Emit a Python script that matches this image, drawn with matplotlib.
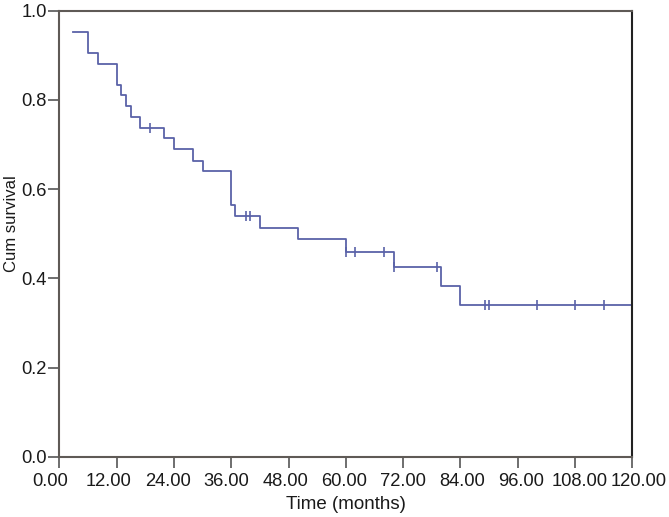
import numpy as np
import matplotlib
matplotlib.use("Agg")
import matplotlib.pyplot as plt
import matplotlib.transforms as mtransforms

plt.rcParams['font.family'] = ['Liberation Sans', 'DejaVu Sans']

# Kaplan-Meier step data (time in months, survival after that time)
event_times = [2.9, 6.0, 8.0, 12.0, 12.9, 14.0, 15.0, 17.0, 22.0, 24.0, 28.0,
               30.0, 36.0, 36.9, 42.0, 50.0, 60.0, 70.0, 80.0, 84.0]
survival = [0.952, 0.905, 0.881, 0.833, 0.810, 0.786, 0.762, 0.738, 0.714,
            0.689, 0.664, 0.640, 0.565, 0.540, 0.513, 0.487, 0.458, 0.425,
            0.382, 0.340]
end_time = 120.0
censor_times = [19.0, 39.0, 39.9, 60.0, 61.9, 67.9, 70.0, 79.0, 89.1, 90.0,
                100.0, 108.0, 114.0]

xticks = [0, 12, 24, 36, 48, 60, 72, 84, 96, 108, 120]
yticks = [0.0, 0.2, 0.4, 0.6, 0.8, 1.0]

color = '#5a62a8'

fig = plt.figure(figsize=(6.69, 5.17), dpi=100)
ax = fig.add_axes([59.3/669, 1-456.7/517, (632.3-59.3)/669, (456.7-10.7)/517])

t = event_times + [end_time]
s = survival + [survival[-1]]
ax.step(t, s, where='post', color=color, lw=1.3)

et = np.array(event_times)
sv = np.array(survival)
cs = [sv[np.searchsorted(et, c, side='right') - 1] for c in censor_times]
ax.plot(censor_times, cs, linestyle='none', marker='|', markersize=7,
        markeredgewidth=1.2, color=color)

ax.set_xlim(0, 120)
ax.set_ylim(0, 1.0)
ax.set_xticks(xticks)
ax.set_xticklabels([f"{v:.2f}" for v in xticks])
ax.set_yticks(yticks)
ax.set_yticklabels([f"{v:.1f}" for v in yticks])
ax.tick_params(axis='both', direction='out', length=8, width=1.2,
               color='#555555', labelsize=13.2, labelcolor='#1a1a1a')
ax.tick_params(axis='y', pad=1)
ax.tick_params(axis='x', pad=4)

# slight spreading of the x tick labels, as in the reference rendering
for i, lab in enumerate(ax.get_xticklabels()):
    dx = (-9.3 + 0.0267 * i * 57.3) / 100.0
    lab.set_transform(lab.get_transform() +
                      mtransforms.ScaledTranslation(dx, 0, fig.dpi_scale_trans))

for side in ['left', 'bottom', 'top']:
    ax.spines[side].set_color('#5f5a56')
    ax.spines[side].set_linewidth(1.5)
ax.spines['right'].set_color('#222222')
ax.spines['right'].set_linewidth(1.5)

ax.set_xlabel('Time (months)', fontsize=13.5, color='#1a1a1a', labelpad=4)
ax.set_ylabel('Cum survival', fontsize=12, color='#1a1a1a')
ax.yaxis.set_label_coords(-0.071, 0.523)

fig.savefig('out.png', dpi=100)
